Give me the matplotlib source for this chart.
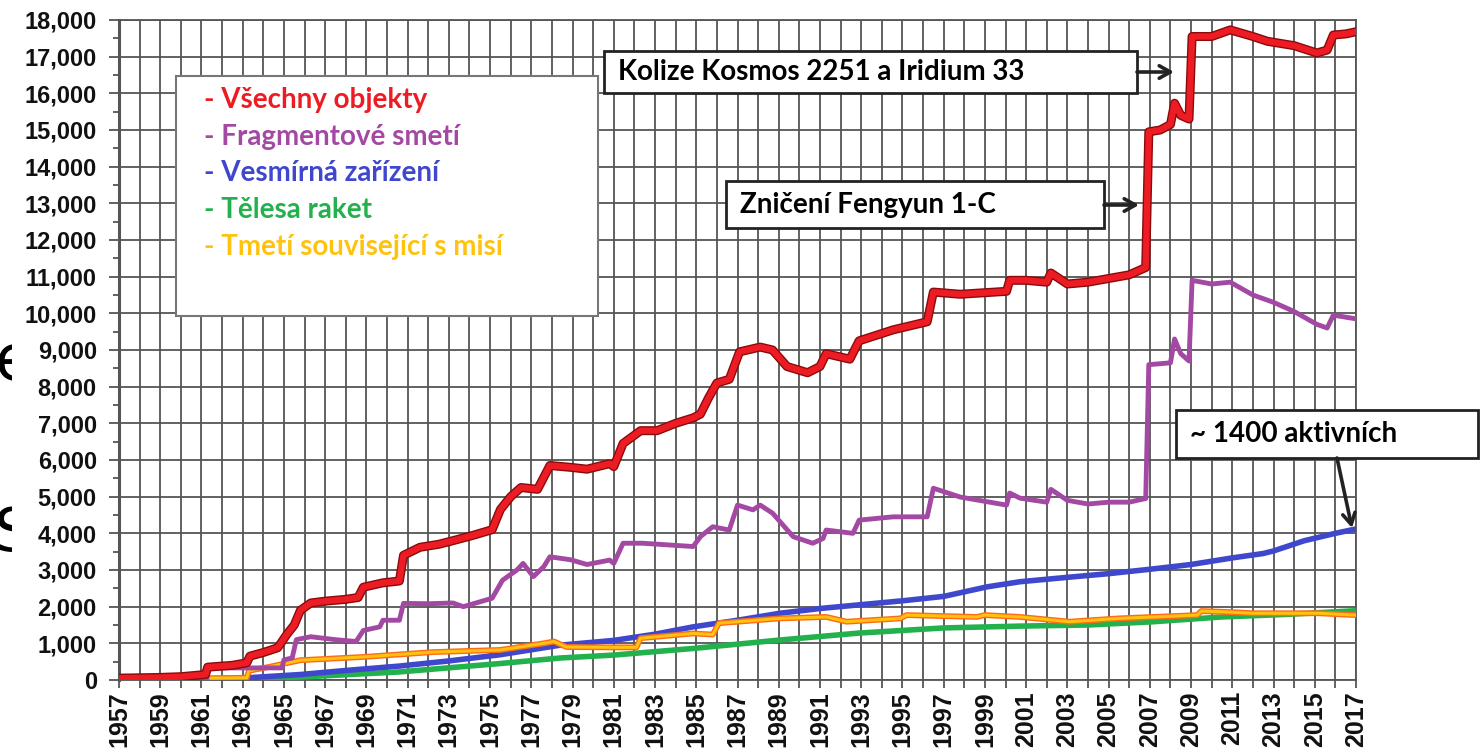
import matplotlib
matplotlib.use("Agg")
import matplotlib.pyplot as plt
import matplotlib.patheffects as pe
from matplotlib.patches import Rectangle
from matplotlib.ticker import FuncFormatter, MultipleLocator, FixedLocator

# ============================================================
# Data
# ============================================================

years_all = [1957, 1958, 1959, 1960, 1961.2, 1961.3, 1962.5, 1963.2, 1963.35, 1964.0,
             1964.7, 1965.15, 1965.5, 1965.8, 1966.3, 1967.0, 1968.0, 1968.6, 1968.85,
             1969.8, 1970.6, 1970.8, 1971.6, 1972.5, 1973.2, 1974.2, 1975.1, 1975.5,
             1976.0, 1976.5, 1977.3, 1977.9, 1978.9, 1979.7, 1980.8, 1981.0, 1981.45,
             1982.3, 1983.1, 1984.0, 1984.85, 1985.2, 1985.6, 1986.0, 1986.6, 1987.1,
             1988.1, 1988.7, 1989.4, 1990.4, 1991.0, 1991.3, 1992.45, 1992.9, 1994.55,
             1996.2, 1996.5, 1997.8, 2000.05, 2000.2, 2001.0, 2002.0, 2002.2, 2003.0,
             2004.0, 2005.0, 2006.0, 2006.8, 2006.95, 2007.5, 2008.0, 2008.2, 2008.5,
             2008.9, 2009.05, 2010.0, 2010.9, 2012.0, 2012.7, 2014.0, 2015.1, 2015.6,
             2015.9, 2016.5, 2017.0]
all_objects = [50, 60, 70, 90, 150, 350, 400, 470, 650, 750,
               880, 1250, 1500, 1900, 2100, 2150, 2200, 2250, 2530,
               2650, 2700, 3400, 3620, 3700, 3800, 3950, 4100, 4650,
               5000, 5250, 5200, 5850, 5800, 5750, 5900, 5820, 6450,
               6800, 6800, 7000, 7150, 7250, 7700, 8100, 8200, 8950,
               9080, 9000, 8550, 8380, 8550, 8900, 8750, 9250, 9550,
               9770, 10580, 10520, 10600, 10900, 10900, 10850, 11100, 10800,
               10850, 10950, 11050, 11250, 14950, 15000, 15150, 15730, 15400,
               15300, 17550, 17550, 17730, 17550, 17420, 17300, 17100, 17180,
               17590, 17620, 17680]

years_frag = [1957, 1961.25, 1961.35, 1964.9, 1965.0, 1965.4, 1965.6, 1966.3, 1967.5,
              1968.5, 1968.85, 1969.65, 1969.8, 1970.6, 1970.8, 1972.0, 1973.2, 1973.7,
              1975.1, 1975.6, 1976.3, 1976.6, 1977.1, 1977.6, 1977.9, 1978.9, 1979.7,
              1980.8, 1981.0, 1981.45, 1982.4, 1984.85, 1985.2, 1985.8, 1986.6, 1987.0,
              1987.75, 1988.1, 1988.7, 1989.7, 1990.65, 1991.15, 1991.3, 1992.6, 1992.9,
              1994.55, 1996.2, 1996.5, 1997.8, 2000.05, 2000.2, 2000.7, 2002.0, 2002.2,
              2003.0, 2004.0, 2005.0, 2006.0, 2006.8, 2006.95, 2008.0, 2008.2, 2008.5,
              2008.9, 2009.05, 2010.0, 2010.9, 2012.0, 2013.0, 2014.0, 2015.1, 2015.6,
              2015.9, 2017.0]
fragments = [0, 0, 330, 330, 550, 600, 1100, 1180, 1100,
             1050, 1350, 1450, 1630, 1630, 2090, 2080, 2100, 2000,
             2230, 2720, 3000, 3180, 2820, 3090, 3360, 3280, 3150,
             3270, 3180, 3730, 3730, 3640, 3910, 4180, 4090, 4770,
             4640, 4770, 4550, 3910, 3730, 3860, 4090, 4000, 4360,
             4450, 4450, 5230, 4990, 4770, 5100, 4960, 4850, 5200,
             4900, 4800, 4850, 4850, 4950, 8600, 8650, 9300, 8900,
             8700, 10900, 10800, 10850, 10500, 10300, 10050, 9700, 9600,
             9950, 9850]

years_sc = [1957, 1962, 1963.2, 1965.8, 1968.0, 1970.6, 1973.0, 1975.5, 1978.4, 1981.0,
            1983.0, 1984.85, 1987.0, 1989.05, 1991.0, 1992.9, 1995.0, 1997.0, 1999.1,
            2000.7, 2003.0, 2005.0, 2007.0, 2009.0, 2011.0, 2012.5, 2013.0, 2014.5,
            2016.0, 2017.0]
spacecraft = [0, 20, 60, 150, 260, 380, 520, 690, 950, 1080,
              1250, 1450, 1630, 1820, 1950, 2050, 2160, 2280, 2540,
              2680, 2800, 2900, 3020, 3150, 3330, 3450, 3520, 3800,
              4000, 4120]

years_rb = [1957, 1963.0, 1963.3, 1965.8, 1970.6, 1975.5, 1978.4, 1981.0, 1984.85,
            1989.05, 1992.9, 1997.0, 2000.7, 2004.0, 2007.2, 2010.5, 2013.7, 2017.0]
rocket_bodies = [0, 0, 30, 80, 220, 450, 600, 680, 860,
                 1090, 1280, 1420, 1470, 1500, 1590, 1720, 1790, 1890]

years_md = [1957, 1961.0, 1963.2, 1963.3, 1964.3, 1965.8, 1968.9, 1972.2, 1975.5,
            1977.6, 1978.1, 1978.7, 1981.0, 1982.1, 1982.3, 1984.85, 1985.8, 1986.1,
            1989.05, 1991.3, 1992.3, 1994.9, 1995.2, 1998.6, 1999.0, 2000.7, 2003.1,
            2005.5, 2009.3, 2009.5, 2011.0, 2012.0, 2015.2, 2017.0]
mission_debris = [40, 50, 60, 250, 360, 540, 630, 760, 820,
                  1000, 1050, 900, 890, 890, 1140, 1270, 1240, 1550,
                  1680, 1720, 1590, 1680, 1770, 1720, 1770, 1720, 1590,
                  1680, 1770, 1880, 1850, 1820, 1820, 1770]

year_ticks = list(range(1957, 2018, 2))

legend_labels = ["- Všechny objekty", "- Fragmentové smetí", "- Vesmírná zařízení",
                 "- Tělesa raket", "- Tmetí související s misí"]
legend_colors = ["#ED1C24", "#A349A4", "#3F48CC", "#22B14C", "#FFC20E"]

# ============================================================
# Figure
# ============================================================

W, H = 1481, 754
fig = plt.figure(figsize=(W / 100, H / 100), dpi=100)
fig.patch.set_facecolor("white")


def fx(px):
    return px / W


def fy(py):
    return 1 - py / H


ax = fig.add_axes([fx(119), fy(680), fx(1356) - fx(119), fy(20) - fy(680)])

grid_col = "#555555"

ax.plot(years_rb, rocket_bodies, color="#22B14C", lw=4, solid_joinstyle="round", zorder=3)
ax.plot(years_sc, spacecraft, color="#3F48CC", lw=4, solid_joinstyle="round", zorder=3)
ax.plot(years_md, mission_debris, color="#FFC20E", lw=2.2, zorder=4,
        path_effects=[pe.Stroke(linewidth=4.2, foreground="#FF6A1A"), pe.Normal()])
ax.plot(years_frag, fragments, color="#A349A4", lw=3.5, solid_joinstyle="round", zorder=5)
ax.plot(years_all, all_objects, color="#ED1C24", lw=4.5, zorder=6,
        path_effects=[pe.Stroke(linewidth=6.5, foreground="#8B0A0A"), pe.Normal()])

ax.set_xlim(1957, 2017)
ax.set_ylim(0, 18000)

ax.xaxis.set_major_locator(FixedLocator(year_ticks))
ax.xaxis.set_minor_locator(MultipleLocator(1))
ax.yaxis.set_major_locator(MultipleLocator(1000))
ax.yaxis.set_minor_locator(MultipleLocator(500))
ax.yaxis.set_major_formatter(FuncFormatter(lambda v, p: f"{v:,.0f}"))
ax.xaxis.set_major_formatter(FuncFormatter(lambda v, p: f"{int(round(v))}"))

ax.grid(True, which="major", color=grid_col, lw=1.3, zorder=1)
ax.grid(True, which="minor", axis="x", color=grid_col, lw=1.3, zorder=1)
ax.set_axisbelow(True)

ax.tick_params(axis="y", which="major", length=7, width=1.3, color=grid_col, pad=9,
               labelsize=17)
ax.tick_params(axis="y", which="minor", length=4, width=1.3, color=grid_col)
ax.tick_params(axis="x", which="both", length=6, width=1.3, color=grid_col, pad=2,
               labelsize=18, labelrotation=90)
for lab in ax.get_xticklabels() + ax.get_yticklabels():
    lab.set_fontfamily("Liberation Sans")
    lab.set_fontweight("bold")
    lab.set_color("#111111")

for s in ax.spines.values():
    s.set_color(grid_col)
    s.set_linewidth(1.3)
ax.spines["left"].set_linewidth(2.2)

# ============================================================
# Legend box
# ============================================================

ax.add_patch(Rectangle((fx(176), fy(316)), fx(598) - fx(176), fy(76) - fy(316),
                       transform=fig.transFigure, facecolor="white",
                       edgecolor="#777777", lw=1.5, zorder=10))
for i, (lab, col) in enumerate(zip(legend_labels, legend_colors)):
    ax.text(fx(204), fy(100 + i * 36.7), lab, transform=fig.transFigure,
            color=col, fontsize=20, fontweight="bold", family="Lato",
            va="center", ha="left", zorder=11)

# ============================================================
# Annotations
# ============================================================

boxes = [
    ("Kolize Kosmos 2251 a Iridium 33", (604, 51, 1137, 93), (1137, 72), (1174, 72)),
    ("Zničení Fengyun 1-C", (726, 181, 1104, 228), (1104, 205), (1139, 205)),
    ("~ 1400 aktivních", (1176, 410, 1478, 458), (1337, 458), (1352, 528)),
]
for text, (x0, y0, x1, y1), a0, a1 in boxes:
    r = Rectangle((fx(x0), fy(y1)), fx(x1) - fx(x0), fy(y0) - fy(y1),
                  transform=fig.transFigure, facecolor="white", edgecolor="#222222",
                  lw=2, zorder=10, clip_on=False)
    ax.add_patch(r)
    ax.text(fx(x0 + 14), fy((y0 + y1) / 2), text, transform=fig.transFigure,
            fontsize=20, fontweight="bold", family="Lato", color="black",
            va="center", ha="left", zorder=11, clip_on=False)
    ax.annotate("", xy=(fx(a1[0]), fy(a1[1])), xytext=(fx(a0[0]), fy(a0[1])),
                xycoords="figure fraction", textcoords="figure fraction",
                arrowprops=dict(arrowstyle="->,head_length=0.8,head_width=0.45",
                                color="#222222", lw=2.6,
                                shrinkA=0, shrinkB=0),
                zorder=12, annotation_clip=False)

# ============================================================
# Cut-off letters at the left edge (as in the reference)
# ============================================================

fig.text(-0.004, fy(362), "e", fontsize=46, family="DejaVu Sans", va="center",
         ha="left", zorder=-2)
fig.text(-0.004, fy(534), "S", fontsize=44, family="DejaVu Sans", va="center",
         ha="left", zorder=-2)
fig.patches.append(Rectangle((fx(12), 0), 1, 1, transform=fig.transFigure,
                             facecolor="white", edgecolor="none", zorder=-1))

fig.savefig("out.png", dpi=100)
